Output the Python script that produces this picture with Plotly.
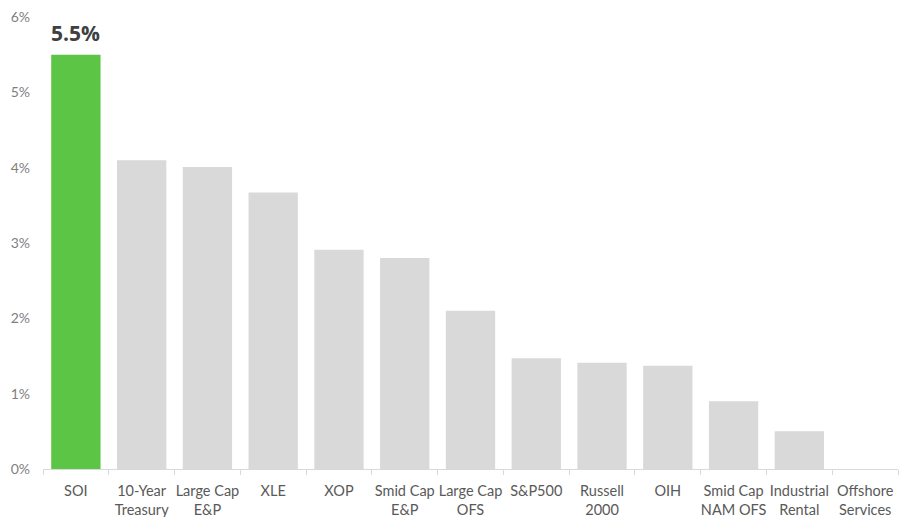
import plotly.graph_objects as go

categories = ["SOI", "10-Year<br>Treasury", "Large Cap<br>E&P", "XLE", "XOP", "Smid Cap<br>E&P",
              "Large Cap<br>OFS", "S&P500", "Russell<br>2000", "OIH", "Smid Cap<br>NAM OFS",
              "Industrial<br>Rental", "Offshore<br>Services"]
values = [5.5, 4.1, 4.01, 3.67, 2.91, 2.8, 2.1, 1.47, 1.41, 1.37, 0.9, 0.5, 0.0]
highlight = "SOI"
y_ticks = [0, 1, 2, 3, 4, 5, 6]
y_tick_labels = ["0%", "1%", "2%", "3%", "4%", "5%", "6%"]

colors = ["#5cc545" if c == highlight else "#d9d9d9" for c in categories]
hi_idx = categories.index(highlight)

fig = go.Figure(go.Bar(
    x=categories, y=values, marker=dict(color=colors, line=dict(width=0)),
))
fig.add_annotation(
    x=categories[hi_idx], y=values[hi_idx], text=f"{values[hi_idx]:.1f}%",
    showarrow=False, yanchor="bottom", yshift=6,
    font=dict(family="Open Sans", size=21, color="#404040", weight="bold"),
)
fig.update_layout(
    width=901, height=517,
    margin=dict(l=43, r=3, t=17, b=48, autoexpand=False),
    paper_bgcolor="white", plot_bgcolor="white",
    bargap=0.25, showlegend=False,
    font=dict(family="Lato", color="#595959", size=14),
)
fig.update_xaxes(
    type="category", tickson="boundaries", ticks="outside", ticklen=5, tickcolor="#d9d9d9",
    showline=True, linecolor="#d9d9d9", linewidth=1, showgrid=False,
    tickfont=dict(family="Lato", size=14.5, color="#595959"), tickangle=0,
    ticklabelstandoff=9, automargin=False,
)
fig.update_yaxes(
    range=[0, 6], tickvals=y_ticks, ticktext=y_tick_labels, showgrid=False, zeroline=False,
    showline=False, ticks="", tickfont=dict(family="Lato", size=14, color="#7f7f7f"),
    ticklabelstandoff=12, automargin=False,
)
fig.write_html("out.html")
